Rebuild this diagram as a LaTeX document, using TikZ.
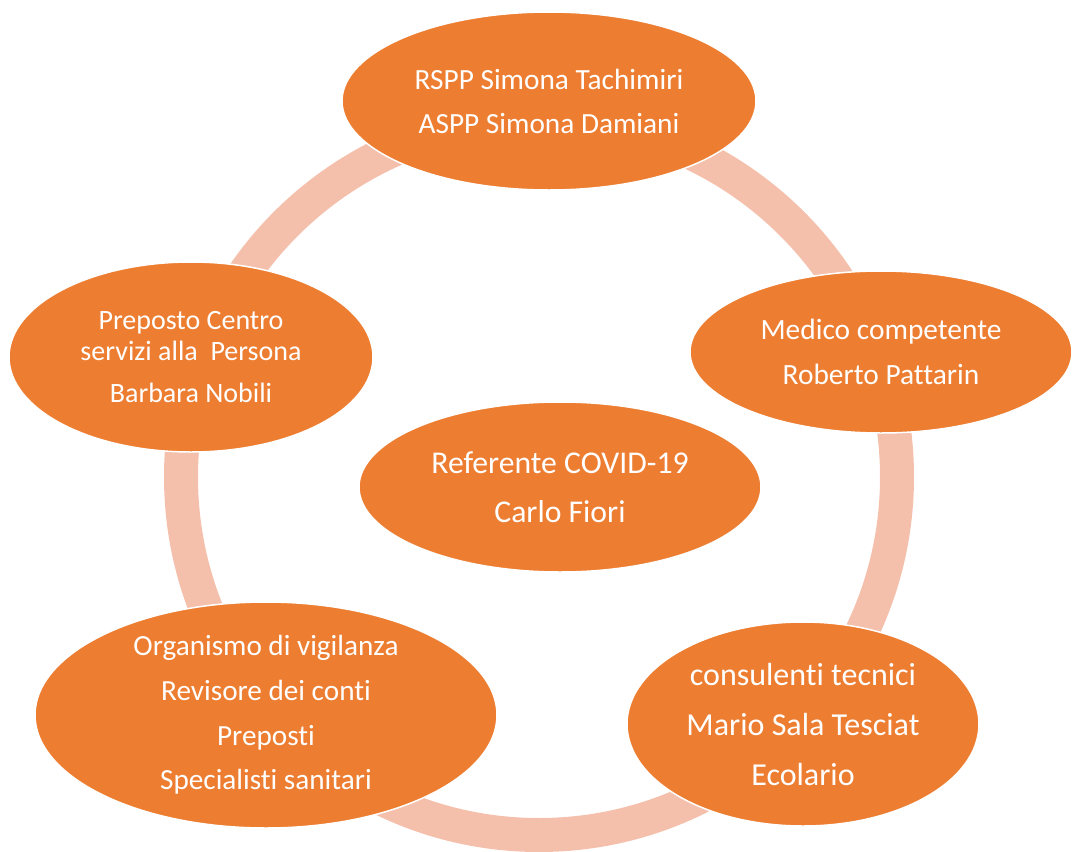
\documentclass[tikz,border=0pt]{standalone}
\usepackage{fontspec}
\setmainfont{Carlito}[Ligatures=NoCommon]
\usetikzlibrary{shapes.geometric}
\definecolor{CycleOrange}{RGB}{237,125,49}
\definecolor{CycleRing}{RGB}{244,192,172}

\begin{document}
\begin{tikzpicture}[x=1pt, y=-1pt,
    blob/.style={ellipse, fill=CycleOrange, draw=white, line width=1.5pt,
                 text=white, align=center, inner sep=0pt},
    ring/.style={draw=CycleRing, line width=34pt}
  ]
  \useasboundingbox (0,0) rectangle (1072,852);

  % ring behind the cycle
  \coordinate (hub) at (539,477);
  \draw[ring] (hub) circle[radius=358];

  \node[blob, minimum width=414, minimum height=178,
        font=\fontsize{29.3}{44}\selectfont] (rspp) at (549,101)
        {RSPP Simona Tachimiri\\ASPP Simona Damiani};
  \node[blob, minimum width=382, minimum height=162,
        font=\fontsize{29.4}{45}\selectfont] (medico) at (881,352)
        {Medico competente\\Roberto Pattarin};
  \node[blob, minimum width=352, minimum height=204,
        font=\fontsize{32}{50}\selectfont] (consulenti) at (803,724)
        {consulenti tecnici\\Mario Sala Tesciat\\Ecolario};
  \node[blob, minimum width=462, minimum height=226,
        font=\fontsize{29.2}{44.7}\selectfont] (organismo) at (266,715)
        {Organismo di vigilanza\\Revisore dei conti\\Preposti\\Specialisti sanitari};
  \node[blob, minimum width=364, minimum height=190,
        font=\fontsize{28}{31}\selectfont] (preposto) at (191,357)
        {Preposto Centro\\servizi alla~ Persona\\[11pt]Barbara Nobili};

  % centre
  \node[blob, minimum width=402, minimum height=170,
        font=\fontsize{31.7}{49}\selectfont] (referente) at (560,487)
        {Referente COVID-19\\Carlo Fiori};
\end{tikzpicture}
\end{document}
